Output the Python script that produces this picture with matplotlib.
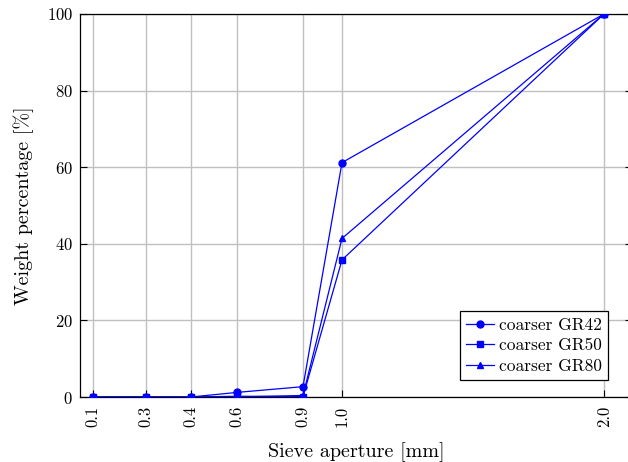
import numpy as np
import matplotlib
matplotlib.use('Agg')
import matplotlib.pyplot as plt

# 筛孔尺寸 (mm) 和 三条级配曲线
sieve_mm = [0.1, 0.3, 0.4, 0.6, 0.9, 1.0, 2.0]
gr42 = [0.0, 0.0, 0.0, 1.2, 2.7, 61.2, 100.0]
gr50 = [0.0, 0.0, 0.0, 0.2, 0.1, 35.8, 100.0]
gr80 = [0.0, 0.0, 0.0, 0.0, 0.4, 41.4, 100.0]
tick_labels = ['0.1', '0.3', '0.4', '0.6', '0.9', '1.0', '2.0']

# the x axis is not linear: place each sieve at its own spot
axis_pos = np.array([93, 146, 191, 237, 303, 342, 604], dtype=float)
knots = np.array(sieve_mm)


def fwd(v):
    v = np.asarray(v, dtype=float)
    out = np.interp(v, knots, axis_pos)
    s0 = (axis_pos[1] - axis_pos[0]) / (knots[1] - knots[0])
    s1 = (axis_pos[-1] - axis_pos[-2]) / (knots[-1] - knots[-2])
    out = np.where(v < knots[0], axis_pos[0] + (v - knots[0]) * s0, out)
    out = np.where(v > knots[-1], axis_pos[-1] + (v - knots[-1]) * s1, out)
    return out


def inv(p):
    p = np.asarray(p, dtype=float)
    out = np.interp(p, axis_pos, knots)
    s0 = (axis_pos[1] - axis_pos[0]) / (knots[1] - knots[0])
    s1 = (axis_pos[-1] - axis_pos[-2]) / (knots[-1] - knots[-2])
    out = np.where(p < axis_pos[0], knots[0] + (p - axis_pos[0]) / s0, out)
    out = np.where(p > axis_pos[-1], knots[-1] + (p - axis_pos[-1]) / s1, out)
    return out


plt.rcParams['font.family'] = 'serif'
plt.rcParams['font.serif'] = ['cmr10']
plt.rcParams['mathtext.fontset'] = 'cm'
plt.rcParams['axes.formatter.use_mathtext'] = True

fig = plt.figure(figsize=(6.28, 4.62), dpi=100)
ax = fig.add_axes([80 / 628, 65 / 462, 552 / 628, 383 / 462])
ax.set_xscale('function', functions=(fwd, inv))

blue = '#0000ff'
ax.plot(sieve_mm, gr42, color=blue, lw=0.9, marker='o', ms=5, label='coarser GR42', zorder=3)
ax.plot(sieve_mm, gr50, color=blue, lw=0.9, marker='s', ms=5, label='coarser GR50', zorder=3)
ax.plot(sieve_mm, gr80, color=blue, lw=0.9, marker='^', ms=4.5, label='coarser GR80', zorder=3)

ax.set_xlim(float(inv(80)), float(inv(632)))
ax.set_ylim(0, 100)
ax.set_xticks(sieve_mm)
ax.set_xticklabels(tick_labels, rotation=90)
ax.xaxis.set_minor_locator(matplotlib.ticker.NullLocator())
ax.set_yticks([0, 20, 40, 60, 80, 100])

ax.grid(True, color='#c0c0c0', lw=1.0, zorder=0)
ax.set_axisbelow(True)
ax.tick_params(direction='in', length=5, width=0.8, labelsize=12, right=True, top=False)
ax.tick_params(axis='x', pad=6.5)
ax.tick_params(axis='y', pad=5)
for sp in ax.spines.values():
    sp.set_linewidth(0.9)

ax.set_xlabel('Sieve aperture [mm]', fontsize=14.5, labelpad=11)
ax.set_ylabel('Weight percentage [%]', fontsize=14.5, labelpad=9)

leg = ax.legend(loc='lower right', bbox_to_anchor=(0.9565, 0.0444), fontsize=12.5,
                fancybox=False, framealpha=1, edgecolor='black',
                handlelength=1.6, handletextpad=0.3, borderpad=0.35, labelspacing=0.3,
                borderaxespad=0)
leg.get_frame().set_linewidth(0.9)

plt.savefig('out.png', dpi=100)
plt.close()
